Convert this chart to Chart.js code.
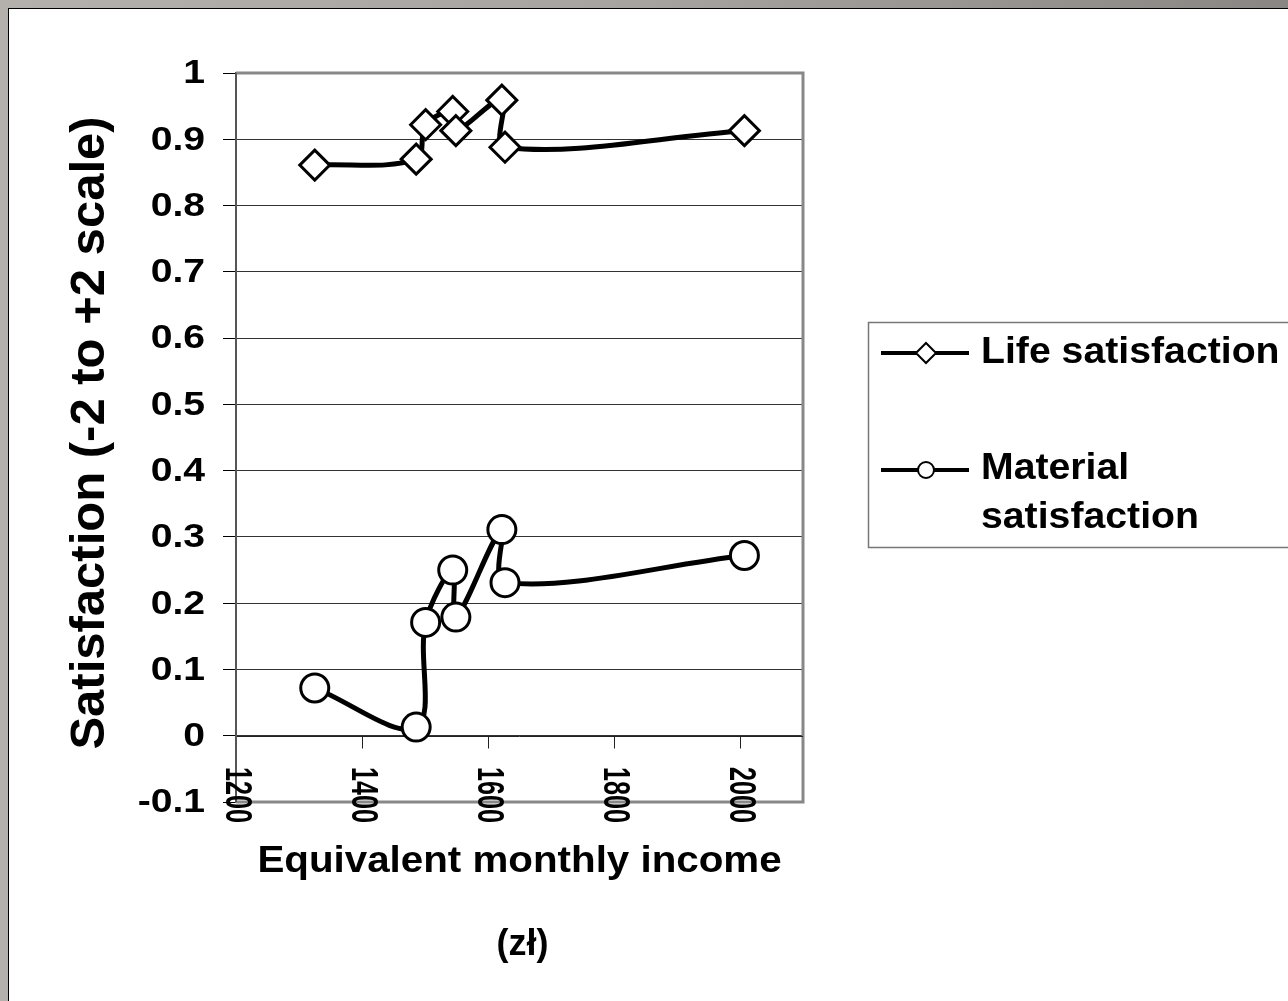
<!DOCTYPE HTML><html>
<head>
  <title>Satisfaction and income</title>
  <meta name="viewport" content="width=device-width, initial-scale=1">
  <style>
  html, body {
    margin: 0;
    padding: 0;
  }
  body {
    width: 1288px;
    height: 1001px;
    overflow: hidden;
    position: relative;
    background: linear-gradient(to right, #b4b0ac 0%, #a7a39f 50%, #8a8683 100%);
  }
  .panel {
    position: absolute;
    left: 8px;
    top: 8px;
    width: 1300px;
    height: 1010px;
    background-color: #fff;
    border-left: 1px solid #000;
    border-top: 1px solid #000;
  }
  canvas {
    position: absolute;
    left: 0;
    top: 0;
  }
  </style>
  <script src="https://cdn.jsdelivr.net/npm/chart.js"></script>
<script>
  // income groups (zl) and mean satisfaction per group
  var income = [1325, 1486, 1501, 1544, 1549, 1622, 1627, 2007];
  var lifeSatisfaction = [0.861, 0.870, 0.922, 0.942, 0.913, 0.959, 0.888, 0.913];
  var materialSatisfaction = [0.072, 0.013, 0.171, 0.250, 0.179, 0.311, 0.231, 0.272];

  var seriesNames = ['Life satisfaction', 'Material satisfaction'];
  var incomeTicks = [1200, 1400, 1600, 1800, 2000];
  var satisfactionTicks = [1, 0.9, 0.8, 0.7, 0.6, 0.5, 0.4, 0.3, 0.2, 0.1, 0, -0.1];
  var satisfactionLabels = ['1', '0.9', '0.8', '0.7', '0.6', '0.5', '0.4', '0.3', '0.2', '0.1', '0', '-0.1'];
  var xTitle = ['Equivalent monthly income', '(zł)'];
  var yTitle = 'Satisfaction (-2 to +2 scale)';

  var FONT = 'Arial, "Liberation Sans", Helvetica, sans-serif';

  function toPoints(xs, ys) {
    var pts = [];
    for (var i = 0; i < xs.length; i++) pts.push({x: xs[i], y: ys[i]});
    return pts;
  }

  // text squeezed/stretched along its writing direction
  function putText(ctx, text, x, y, size, sx, align, baseline, rot) {
    ctx.save();
    ctx.translate(x, y);
    if (rot) ctx.rotate(rot);
    ctx.scale(sx, 1);
    ctx.font = 'bold ' + size + 'px ' + FONT;
    ctx.fillStyle = '#000';
    ctx.textAlign = align;
    ctx.textBaseline = baseline;
    ctx.fillText(text, 0, 0);
    ctx.restore();
  }

  var framePlugin = {
    id: 'frame',
    beforeDatasetsDraw: function(chart) {
      var ctx = chart.ctx, a = chart.chartArea;
      var xs = chart.scales.x, ys = chart.scales.y;
      ctx.save();
      // plot border
      ctx.strokeStyle = '#888';
      ctx.lineWidth = 3;
      ctx.beginPath();
      ctx.moveTo(a.left, a.top);
      ctx.lineTo(a.right, a.top);
      ctx.lineTo(a.right, a.bottom);
      ctx.lineTo(a.left, a.bottom);
      ctx.stroke();
      // x axis crosses at 0
      var y0 = Math.round(ys.getPixelForValue(0)) + 0.5;
      ctx.strokeStyle = '#222';
      ctx.lineWidth = 1;
      ctx.beginPath();
      ctx.moveTo(a.left, y0);
      ctx.lineTo(a.right, y0);
      incomeTicks.forEach(function(v) {
        var px = Math.round(xs.getPixelForValue(v)) + 0.5;
        ctx.moveTo(px, y0);
        ctx.lineTo(px, y0 + 12);
      });
      ctx.stroke();
      // left axis line
      ctx.strokeStyle = '#555';
      ctx.lineWidth = 2;
      ctx.beginPath();
      ctx.moveTo(a.left, a.top);
      ctx.lineTo(a.left, a.bottom);
      ctx.stroke();
      ctx.restore();
    },
    afterDraw: function(chart) {
      var ctx = chart.ctx, a = chart.chartArea;
      var xs = chart.scales.x, ys = chart.scales.y;

      // y tick labels
      satisfactionTicks.forEach(function(v, i) {
        putText(ctx, satisfactionLabels[i], 205, ys.getPixelForValue(v) + 1, 34, 1.15, 'right', 'middle', 0);
      });
      // x tick labels, reading downwards
      incomeTicks.forEach(function(v) {
        putText(ctx, String(v), xs.getPixelForValue(v), 767, 37, 0.68, 'left', 'middle', Math.PI / 2);
      });
      // axis titles
      var cx = (a.left + a.right) / 2;
      putText(ctx, xTitle[0], cx, 862, 36, 1.12, 'center', 'middle', 0);
      putText(ctx, xTitle[1], cx + 3, 945, 36, 1.0, 'center', 'middle', 0);
      putText(ctx, yTitle, 104, 433, 49, 1.0, 'center', 'alphabetic', -Math.PI / 2);

      // legend
      ctx.save();
      ctx.strokeStyle = '#777';
      ctx.lineWidth = 1.5;
      ctx.strokeRect(868.5, 322.5, 440, 225);
      var rows = [
        {y: 353, style: 'rectRot', r: 10},
        {y: 470, style: 'circle', r: 8}
      ];
      rows.forEach(function(row) {
        ctx.strokeStyle = '#000';
        ctx.lineWidth = 4;
        ctx.beginPath();
        ctx.moveTo(881, row.y);
        ctx.lineTo(969, row.y);
        ctx.stroke();
        ctx.fillStyle = '#fff';
        ctx.lineWidth = 2;
        Chart.helpers.drawPoint(ctx, {pointStyle: row.style, radius: row.r, borderWidth: 2, rotation: 0}, 926, row.y);
      });
      ctx.restore();
      putText(ctx, seriesNames[0], 981, 353, 37, 1.06, 'left', 'middle', 0);
      var parts = seriesNames[1].split(' ');
      putText(ctx, parts[0], 981, 469, 37, 1.06, 'left', 'middle', 0);
      putText(ctx, parts[1], 981, 518, 37, 1.06, 'left', 'middle', 0);
    }
  };

  var config = {
    type: 'scatter',
    data: {
      datasets: [{
        label: seriesNames[0],
        data: toPoints(income, lifeSatisfaction),
        showLine: true,
        tension: 0.35,
        borderColor: '#000',
        borderWidth: 5,
        pointStyle: 'rectRot',
        pointRadius: 15,
        pointBorderWidth: 3,
        pointBackgroundColor: '#fff',
        pointBorderColor: '#000'
      }, {
        label: seriesNames[1],
        data: toPoints(income, materialSatisfaction),
        showLine: true,
        tension: 0.35,
        borderColor: '#000',
        borderWidth: 5,
        pointStyle: 'circle',
        pointRadius: 14,
        pointBorderWidth: 3,
        pointBackgroundColor: '#fff',
        pointBorderColor: '#000'
      }]
    },
    options: {
      responsive: false,
      animation: false,
      layout: {
        padding: {left: 0, top: 73, right: 1288 - 803, bottom: 1001 - 802}
      },
      plugins: {
        legend: {display: false},
        tooltip: {enabled: false}
      },
      scales: {
        x: {
          type: 'linear',
          min: 1200,
          max: 2100,
          display: false
        },
        y: {
          min: -0.1,
          max: 1,
          ticks: {display: false, stepSize: 0.1},
          grid: {color: '#333', lineWidth: 1, tickLength: 13, tickColor: '#000'},
          border: {color: '#555', width: 2},
          afterFit: function(s) { s.width = 236; }
        }
      }
    },
    plugins: [framePlugin]
  };

  window.addEventListener('load', function() {
    new Chart(document.getElementById('sat-chart'), config);
  });
</script>
</head>
<body>
  <div class="panel"></div>
  <canvas id="sat-chart" width="1288" height="1001"></canvas>
</body>
</html>
